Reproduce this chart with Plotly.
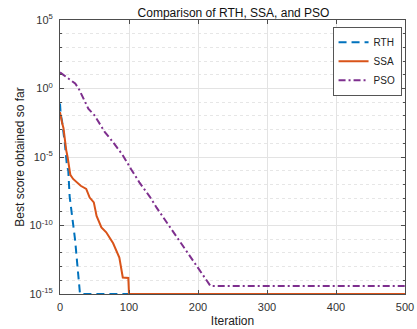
import plotly.graph_objects as go

# ---- data ----
rth_iter = [0, 1, 3, 5, 7, 10, 12, 14, 17, 20, 22, 25, 27, 29, 500]
rth_best = [7.9e-2, 1.3e-2, 4.0e-3, 8.7e-4, 1.0e-4, 2.5e-6, 1.0e-6, 1.3e-8, 1.0e-9,
            5.0e-11, 7.9e-12, 1.6e-13, 5.4e-15, 1e-15, 1e-15]

ssa_iter = [0, 1, 3, 5, 7, 9, 11, 13, 15, 19, 25, 30, 38, 43, 49, 53, 60, 67, 77,
            86, 91, 99, 100, 500]
ssa_best = [1.9e-2, 7.9e-3, 3.2e-3, 1.3e-3, 1.6e-4, 3.2e-5, 1.0e-5, 1.6e-6, 5.0e-7,
            2.5e-7, 1.3e-7, 7.9e-8, 4.7e-8, 1.1e-8, 4.9e-9, 5.0e-10, 7.2e-11, 3.2e-11,
            5.0e-12, 4.6e-13, 1.6e-14, 1.5e-14, 1e-15, 1e-15]

pso_iter = [0, 10, 22, 27, 35, 41, 50, 58, 65, 75, 90, 103, 115, 130, 140, 155, 170,
            185, 199, 210, 218, 500]
pso_best = [1.5e1, 6.3e0, 2.3e0, 1.0e0, 1.6e-1, 3.4e-2, 1.1e-2, 2.5e-3, 6.6e-4, 1.6e-4,
            1.6e-5, 1.3e-6, 1.4e-7, 1.3e-8, 2.0e-9, 1.6e-10, 1.3e-11, 1.0e-12, 1.1e-13,
            1.8e-14, 3.9e-15, 3.9e-15]

y_major = [1e5, 1e0, 1e-5, 1e-10, 1e-15]
y_major_text = ["10<sup>5</sup>", "10<sup>0</sup>", "10<sup>-5</sup>",
                "10<sup>-10</sup>", "10<sup>-15</sup>"]
y_minor = [10.0 ** e for e in range(-15, 6)]
x_ticks = [0, 100, 200, 300, 400, 500]

FONT = "Liberation Sans, Arial"

fig = go.Figure()
fig.add_trace(go.Scatter(x=rth_iter, y=rth_best, name="RTH", mode="lines",
                         line=dict(color="#0072BD", width=2, dash="8px,5px")))
fig.add_trace(go.Scatter(x=ssa_iter, y=ssa_best, name="SSA", mode="lines",
                         line=dict(color="#D95319", width=2)))
fig.add_trace(go.Scatter(x=pso_iter, y=pso_best, name="PSO", mode="lines",
                         line=dict(color="#7E2F8E", width=2, dash="7px,3px,2px,3px")))

axis_common = dict(showline=True, linecolor="#4d4d4d", linewidth=1, mirror="ticks",
                   ticks="inside", ticklen=4, tickcolor="#4d4d4d", automargin=False,
                   tickfont=dict(family=FONT, size=11, color="#333"),
                   gridcolor="#e3e3e3", gridwidth=1, zeroline=False)

fig.update_xaxes(range=[0, 500], tickvals=x_ticks, ticklabelstandoff=3,
                 title=dict(text="Iteration", font=dict(family=FONT, size=12, color="#222"),
                            standoff=4),
                 **axis_common)
fig.update_yaxes(type="log", range=[-15, 5], tickvals=y_major, ticktext=y_major_text,
                 ticklabelstandoff=4,
                 minor=dict(tickvals=y_minor, ticks="inside", ticklen=2,
                            tickcolor="#4d4d4d", showgrid=True, gridcolor="#e6e6e6",
                            griddash="dot"),
                 title=dict(text="Best score obtained so far",
                            font=dict(family=FONT, size=12, color="#222"), standoff=2),
                 **axis_common)

fig.update_layout(
    width=417, height=329,
    margin=dict(l=60, r=12, t=20, b=35),
    paper_bgcolor="white", plot_bgcolor="white",
    title=dict(text="Comparison of RTH, SSA, and PSO", x=0.56, xanchor="center",
               y=0.962, yanchor="middle",
               font=dict(family=FONT, size=12, color="#111")),
    legend=dict(x=0.99, y=0.975, xanchor="right", yanchor="top",
                bgcolor="white", bordercolor="#555", borderwidth=1,
                font=dict(family=FONT, size=10, color="#222"),
                tracegroupgap=0, itemwidth=30),
    showlegend=True,
)

fig.write_html("out.html")
